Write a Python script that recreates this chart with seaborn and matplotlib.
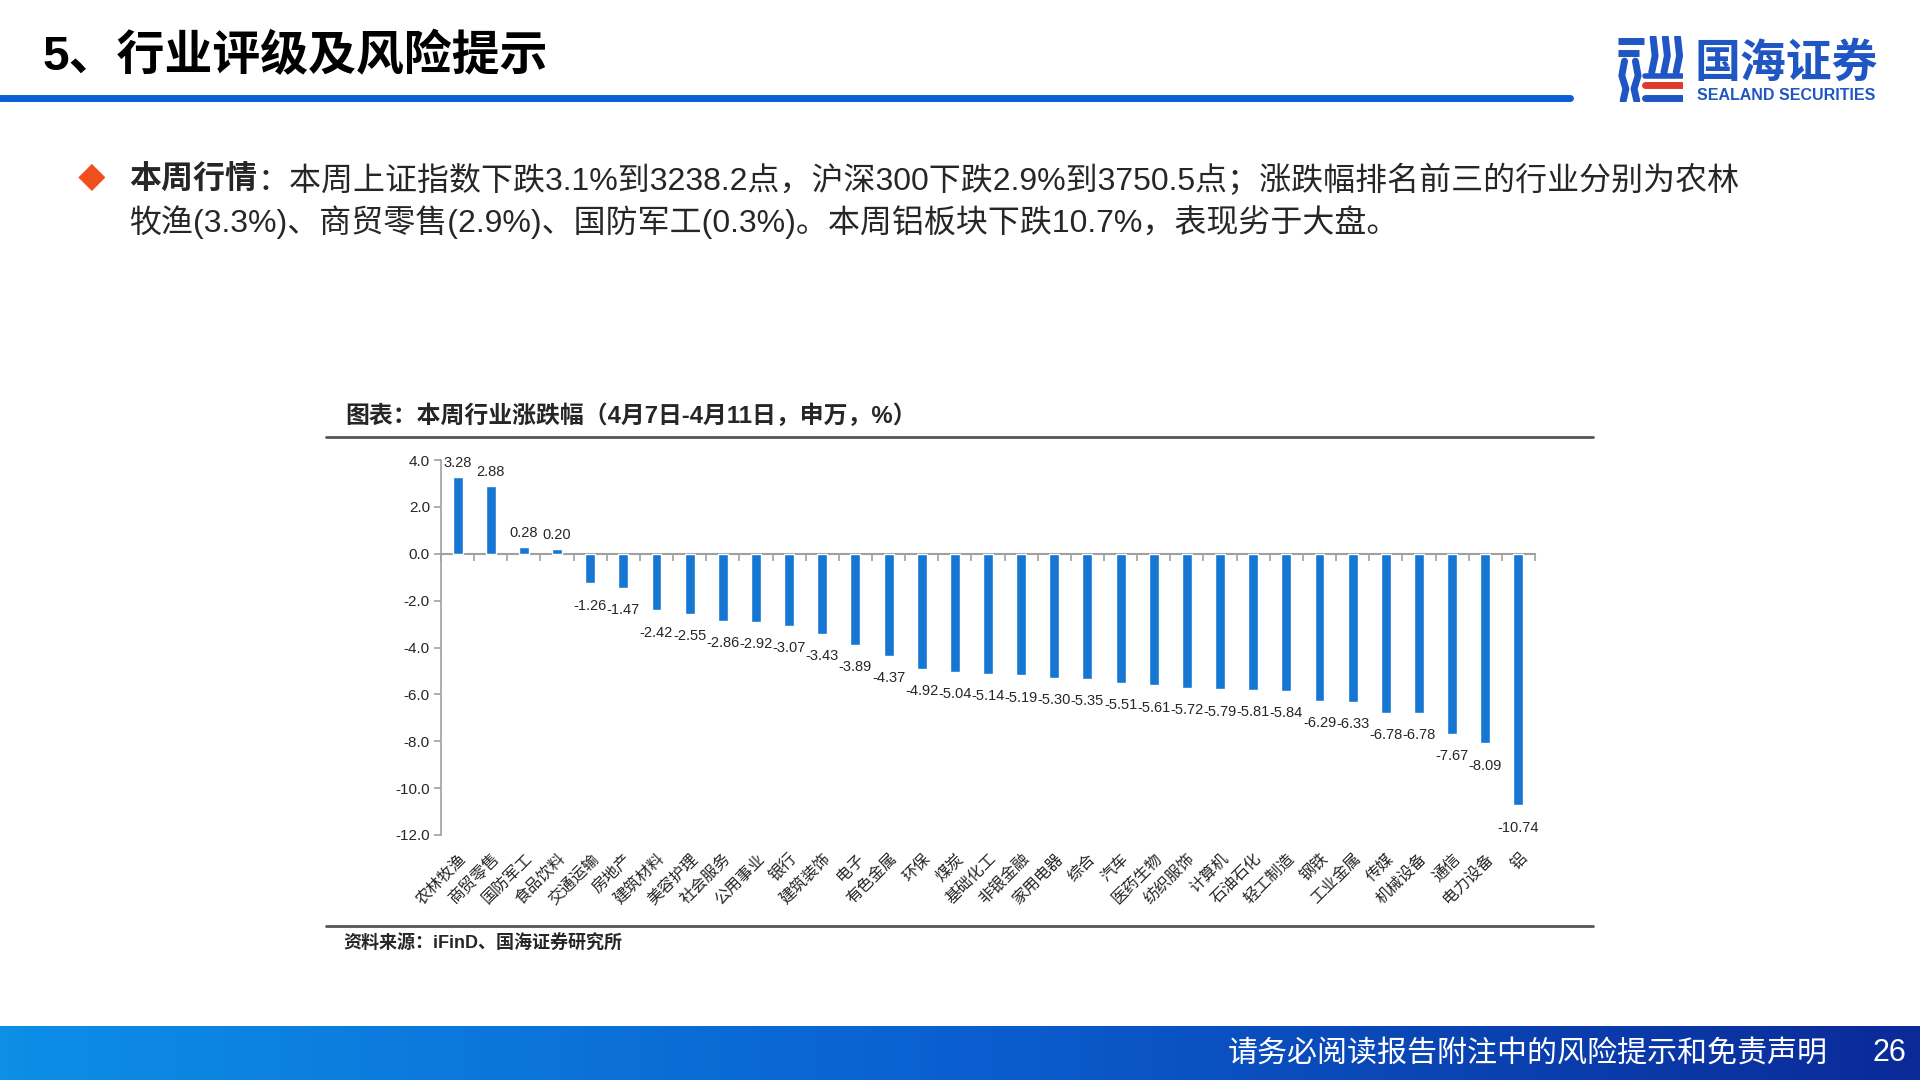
import matplotlib
matplotlib.use('Agg')
import matplotlib.pyplot as plt
import matplotlib.colors as mcolors
from matplotlib.ticker import FormatStrFormatter
import numpy as np
import pandas as pd
import seaborn as sns

industries = ['农林牧渔', '商贸零售', '国防军工', '食品饮料', '交通运输', '房地产',
              '建筑材料', '美容护理', '社会服务', '公用事业', '银行', '建筑装饰',
              '电子', '有色金属', '环保', '煤炭', '基础化工', '非银金融',
              '家用电器', '综合', '汽车', '医药生物', '纺织服饰', '计算机',
              '石油石化', '轻工制造', '钢铁', '工业金属', '传媒', '机械设备',
              '通信', '电力设备', '铝']
changes = [3.28, 2.88, 0.28, 0.20, -1.26, -1.47, -2.42, -2.55, -2.86, -2.92,
           -3.07, -3.43, -3.89, -4.37, -4.92, -5.04, -5.14, -5.19, -5.30, -5.35,
           -5.51, -5.61, -5.72, -5.79, -5.81, -5.84, -6.29, -6.33, -6.78, -6.78,
           -7.67, -8.09, -10.74]
y_ticks = [-12, -10, -8, -6, -4, -2, 0, 2, 4]

page_title = '5、行业评级及风险提示'
summary_head = '本周行情'
summary_line1 = '：本周上证指数下跌3.1%到3238.2点，沪深300下跌2.9%到3750.5点；涨跌幅排名前三的行业分别为农林'
summary_line2 = '牧渔(3.3%)、商贸零售(2.9%)、国防军工(0.3%)。本周铝板块下跌10.7%，表现劣于大盘。'
chart_title = '图表：本周行业涨跌幅（4月7日-4月11日，申万，%）'
source_note = '资料来源：iFinD、国海证券研究所'
footer_note = '请务必阅读报告附注中的风险提示和免责声明'
page_no = '26'

bar_blue = '#1677d2'
axis_gray = '#a0a0a0'
num_font = ['Liberation Sans', 'Noto Sans CJK SC', 'DejaVu Sans']

sns.set_theme(style='white')
plt.rcParams['font.family'] = ['Noto Sans CJK SC', 'DejaVu Sans']

W, H = 1920, 1080
fig = plt.figure(figsize=(19.2, 10.8), dpi=100)


def fx(px):
    return px / W


def fy(py):
    return 1 - py / H


# ---- header ----
fig.text(fx(43), fy(57), page_title, fontsize=34.5, weight='bold', va='center',
         family=num_font, color='black')
fig.add_artist(plt.Line2D([0, fx(1570)], [fy(98), fy(98)], transform=fig.transFigure,
                          color='#0a5fd6', lw=5))

# logo (rough sketch)
logo = fig.add_axes([fx(1615), fy(102), fx(68), 66 / H])
logo.set_xlim(0, 1)
logo.set_ylim(0, 1)
logo.axis('off')
lb = '#1f56c3'
logo.plot([0.04, 0.42], [0.92, 0.92], color=lb, lw=5, solid_capstyle='butt')
logo.plot([0.04, 0.36], [0.74, 0.74], color=lb, lw=5, solid_capstyle='butt')
logo.plot([0.14, 0.10, 0.16, 0.12], [0.62, 0.40, 0.20, 0.02], color=lb, lw=5)
logo.plot([0.30, 0.34, 0.28, 0.32], [0.62, 0.40, 0.20, 0.02], color=lb, lw=5)
for xs in (0.56, 0.74, 0.92):
    logo.plot([xs, xs + 0.03, xs - 0.02], [0.98, 0.7, 0.45], color=lb, lw=5)
logo.plot([0.44, 0.98], [0.40, 0.40], color=lb, lw=4)
logo.plot([0.44, 0.98], [0.26, 0.26], color='#e03a2e', lw=5)
logo.plot([0.44, 0.98], [0.06, 0.06], color=lb, lw=5)
fig.text(fx(1695), fy(64), '国海证券', fontsize=33, weight='bold', color=lb, va='center')
fig.text(fx(1697), fy(96), 'SEALAND SECURITIES', fontsize=11.5, weight='bold',
         color=lb, va='center', family=['Liberation Sans', 'DejaVu Sans'])

# ---- summary text ----
overlay = fig.add_axes([0, 0, 1, 1], zorder=-1)
overlay.axis('off')
fig.text(fx(92), fy(180), '◆', fontsize=20, color='#f0501e', va='center', ha='center')
head = fig.text(fx(129), fy(181), summary_head, fontsize=23, weight='bold',
                va='center', family=num_font)
overlay.annotate(summary_line1, xy=(1, 0.5), xycoords=head, va='center', ha='left',
                 fontsize=23, family=num_font)
fig.text(fx(129), fy(222), summary_line2, fontsize=23, va='center', family=num_font)

# ---- chart frame ----
fig.text(fx(345), fy(416), chart_title, fontsize=17.2, weight='bold', va='center',
         family=num_font)
for yy in (437, 926):
    fig.add_artist(plt.Line2D([fx(326), fx(1593)], [fy(yy), fy(yy)],
                              transform=fig.transFigure, color='#555555', lw=2))
fig.text(fx(343), fy(944), source_note, fontsize=13, weight='bold', va='center',
         family=num_font)

# ---- bar chart ----
df = pd.DataFrame({'行业': industries, '涨跌幅': changes})
ax = fig.add_axes([fx(441), fy(835), fx(1535 - 441), (835 - 460) / H])
sns.barplot(data=df, x='行业', y='涨跌幅', color=bar_blue, saturation=1,
            width=0.3, ax=ax)
ax.set_xlim(-0.5, len(industries) - 0.5)
ax.set_ylim(min(y_ticks), max(y_ticks))
ax.set_yticks(y_ticks)
ax.yaxis.set_major_formatter(FormatStrFormatter('%.1f'))
ax.set_xlabel('')
ax.set_ylabel('')
for side in ('top', 'right', 'bottom'):
    ax.spines[side].set_visible(False)
ax.spines['left'].set_color(axis_gray)
ax.spines['left'].set_linewidth(1.2)
ax.tick_params(axis='y', direction='out', length=5, width=1.2, color=axis_gray,
               labelsize=11, pad=3, left=True)
for lab in ax.get_yticklabels():
    lab.set_family(num_font)
ax.tick_params(axis='x', length=0, pad=11, labelsize=11.5)
plt.setp(ax.get_xticklabels(), rotation=45, ha='right', rotation_mode='anchor')

zero_axis = ax.secondary_xaxis(0, transform=ax.transData)
zero_axis.set_xticks(np.arange(len(industries) + 1) - 0.5)
zero_axis.tick_params(direction='out', length=5, width=1.2, color=axis_gray,
                      labelbottom=False)
zero_axis.spines['bottom'].set_color(axis_gray)
zero_axis.spines['bottom'].set_linewidth(1.5)

labels = ax.bar_label(ax.containers[0], fmt='%.2f', padding=8, fontsize=10.5)
for t, v in zip(labels, changes):
    t.set_family(num_font)
    t.xyann = (0, 5) if v >= 0 else (0, -11)

# ---- footer ----
foot = fig.add_axes([0, 0, 1, (1080 - 1026) / H])
grad = mcolors.LinearSegmentedColormap.from_list('foot', ['#0d8fe6', '#0a5fd0', '#0a2a98'])
foot.imshow(np.linspace(0, 1, 256).reshape(1, -1), aspect='auto', cmap=grad,
            extent=(0, 1, 0, 1))
foot.axis('off')
fig.text(fx(1228), fy(1053), footer_note, fontsize=21.6, color='white', va='center')
fig.text(fx(1889), fy(1053), page_no, fontsize=22, color='white', va='center',
         ha='center', family=num_font)

fig.savefig('out.png', dpi=100)
